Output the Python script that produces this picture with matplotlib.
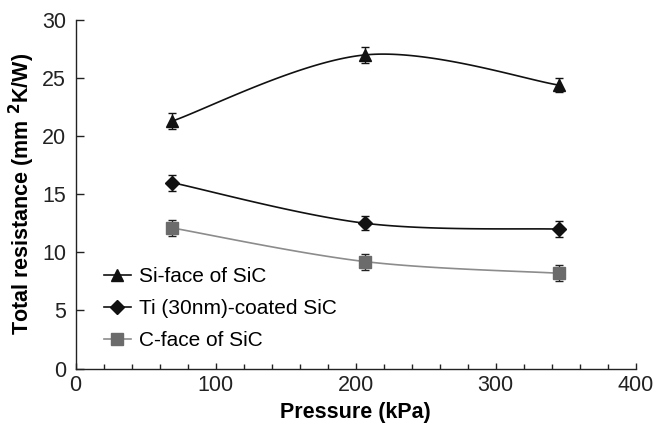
import matplotlib.pyplot as plt
import numpy as np

plt.rcParams['font.family'] = ['Liberation Sans', 'DejaVu Sans']

# data
pressure = [69, 207, 345]  # kPa
si_face = [21.3, 27.0, 24.4]
si_err = [0.7, 0.7, 0.6]
ti_coated = [16.0, 12.5, 12.0]
ti_err = [0.7, 0.6, 0.7]
c_face = [12.1, 9.2, 8.2]
c_err = [0.7, 0.7, 0.7]
labels = ['Si-face of SiC', 'Ti (30nm)-coated SiC', 'C-face of SiC']


def smooth(x, y, n=60):
    # Excel-like smoothed line: cubic Bezier segments with Catmull-Rom tangents
    x = np.asarray(x, float)
    y = np.asarray(y, float)
    px = np.concatenate([[x[0]], x, [x[-1]]])
    py = np.concatenate([[y[0]], y, [y[-1]]])
    xs, ys = [], []
    t = np.linspace(0, 1, n)
    for i in range(1, len(px) - 2):
        p0 = np.array([px[i], py[i]])
        p3 = np.array([px[i + 1], py[i + 1]])
        p1 = p0 + (np.array([px[i + 1], py[i + 1]]) - np.array([px[i - 1], py[i - 1]])) / 6
        p2 = p3 - (np.array([px[i + 2], py[i + 2]]) - np.array([px[i], py[i]])) / 6
        b = ((1 - t) ** 3)[:, None] * p0 + (3 * (1 - t) ** 2 * t)[:, None] * p1 \
            + (3 * (1 - t) * t ** 2)[:, None] * p2 + (t ** 3)[:, None] * p3
        xs.extend(b[:, 0])
        ys.extend(b[:, 1])
    return xs, ys


fig = plt.figure(figsize=(6.53, 4.25), dpi=100)
ax = fig.add_axes([0.1159, 0.1329, 0.8576, 0.82])

series = [
    (si_face, si_err, '^', '#111111', '#111111', '#111111', labels[0]),
    (ti_coated, ti_err, 'D', '#111111', '#111111', '#111111', labels[1]),
    (c_face, c_err, 's', '#6b6b6b', '#8c8c8c', '#222222', labels[2]),
]
handles = []
for y, err, mk, mcol, lcol, ecol, lab in series:
    sx, sy = smooth(pressure, y)
    ax.plot(sx, sy, color=lcol, lw=1.2, zorder=2)
    ax.errorbar(pressure, y, yerr=err, fmt='none', ecolor=ecol, elinewidth=1,
                capsize=3, capthick=1, zorder=3)
    ms = 7.5 if mk == 'D' else 9
    ax.plot(pressure, y, ls='none', marker=mk, ms=ms, color=mcol, zorder=4)
    h, = ax.plot([], [], color=lcol, lw=1.2, marker=mk, ms=ms, mfc=mcol, mec=mcol)
    handles.append(h)

ax.set_xlim(0, 400)
ax.set_ylim(0, 30)
ax.set_xticks([0, 100, 200, 300, 400])
ax.set_xticks(np.arange(0, 401, 20), minor=True)
ax.set_yticks([0, 5, 10, 15, 20, 25, 30])
for s in ['top', 'right']:
    ax.spines[s].set_visible(False)
for s in ['left', 'bottom']:
    ax.spines[s].set_linewidth(1.0)
    ax.spines[s].set_color('#222222')
ax.tick_params(axis='y', which='major', direction='in', length=5.5, width=1,
               labelsize=15.5, colors='#222222', pad=7)
ax.tick_params(axis='x', which='major', direction='in', length=4.5, width=1,
               labelsize=15.5, colors='#222222', pad=5)
ax.tick_params(axis='x', which='minor', direction='in', length=3.5, width=1, colors='#222222')

ax.set_xlabel('Pressure (kPa)', fontsize=15.5, fontweight='bold', labelpad=4)
ax.set_ylabel('Total resistance (mm $^{\\mathbf{2}}$K/W)', fontsize=15.5, fontweight='bold', labelpad=3.5)

ax.legend(handles, labels, loc='upper left', bbox_to_anchor=(0.05, 0.29), frameon=False,
          fontsize=15, handlelength=1.3, handletextpad=0.4, labelspacing=0.62,
          borderpad=0, borderaxespad=0)

fig.savefig('out.png', dpi=100)
